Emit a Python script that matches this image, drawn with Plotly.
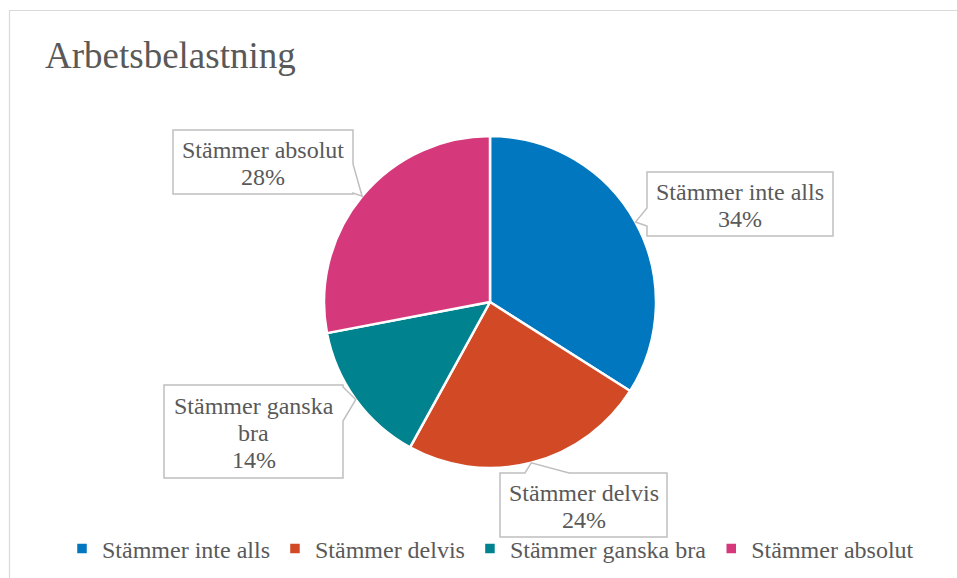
import math
import plotly.graph_objects as go

# Survey data: workload statement
categories = ["Stämmer inte alls", "Stämmer delvis", "Stämmer ganska bra", "Stämmer absolut"]
values = [34, 24, 14, 28]
label_lines = [["Stämmer inte alls"], ["Stämmer delvis"], ["Stämmer ganska", "bra"], ["Stämmer absolut"]]
colors = ["#0077BE", "#D14925", "#00828F", "#D5397B"]

W, H = 957, 578
FONT = "Liberation Serif"
TEXT_COLOR = "#595959"

# pie geometry (pixels)
CX, CY, R = 490, 302, 166

# callout boxes: (left, top, right, bottom) in pixels, and pointer base points
boxes = [
    (647, 172, 833, 236),
    (500, 473, 667, 537),
    (164, 385, 343, 478),
    (173, 130, 353, 194),
]
pointer_bases = [
    ((647, 208), (647, 226)),
    ((525, 473), (569, 473)),
    ((343, 387), (343, 421)),
    ((353, 164), (353, 193)),
]


def px(x):
    return x / W


def py(y):
    return 1 - y / H


total = sum(values)
percents = [round(v / total * 100) for v in values]

fig = go.Figure()
fig.add_trace(go.Pie(
    labels=categories,
    values=values,
    sort=False,
    direction="clockwise",
    rotation=0,
    textinfo="none",
    marker=dict(colors=colors, line=dict(color="white", width=2.5)),
    domain=dict(x=[px(CX - R), px(CX + R)], y=[py(CY + R), py(CY - R)]),
    showlegend=True,
))

shapes = [
    # chart area frame
    dict(type="rect", xref="paper", yref="paper",
         x0=px(9.5), y0=py(600), x1=px(970), y1=py(10.5),
         line=dict(color="#D9D9D9", width=1.2), fillcolor="rgba(0,0,0,0)", layer="below"),
]
annotations = []

cum = 0
for i, v in enumerate(values):
    mid = (cum + v / 2) / total * 2 * math.pi
    cum += v
    tip = (CX + R * math.sin(mid), CY - R * math.cos(mid))
    l, t, r, b = boxes[i]
    (bx0, by0), (bx1, by1) = pointer_bases[i]
    # outline of box with the pointer inserted on the relevant side
    if bx0 == l and bx1 == l:          # pointer on left side
        pts = [(l, t), (r, t), (r, b), (l, b), (l, by1), tip, (l, by0)]
    elif bx0 == r and bx1 == r:        # pointer on right side
        pts = [(l, t), (r, t), (r, by0), tip, (r, by1), (r, b), (l, b)]
    else:                              # pointer on top side
        pts = [(l, t), (bx0, t), tip, (bx1, t), (r, t), (r, b), (l, b)]
    path = "M " + " L ".join(f"{px(x):.5f},{py(y):.5f}" for x, y in pts) + " Z"
    shapes.append(dict(type="path", xref="paper", yref="paper", path=path,
                       fillcolor="white", line=dict(color="#BFBFBF", width=1.5)))

    lines = label_lines[i] + [f"{percents[i]}%"]
    cy = (t + b) / 2 + 1.5
    step = 26.5
    for k, txt in enumerate(lines):
        y = cy + (k - (len(lines) - 1) / 2) * step
        annotations.append(dict(
            x=px((l + r) / 2), y=py(y), xref="paper", yref="paper",
            text=txt, showarrow=False, xanchor="center", yanchor="middle",
            font=dict(family=FONT, size=24, color=TEXT_COLOR),
        ))

fig.update_layout(
    width=W, height=H,
    margin=dict(l=0, r=0, t=0, b=0),
    paper_bgcolor="white",
    plot_bgcolor="white",
    font=dict(family=FONT, color=TEXT_COLOR),
    title=dict(text="Arbetsbelastning", x=px(45), xanchor="left",
               y=py(55), yanchor="middle",
               font=dict(family=FONT, size=37, color=TEXT_COLOR)),
    legend=dict(orientation="h", x=px(62), xanchor="left", y=py(549), yanchor="middle",
                font=dict(family=FONT, size=24, color=TEXT_COLOR),
                itemwidth=30, traceorder="normal", bgcolor="rgba(0,0,0,0)"),
    shapes=shapes,
    annotations=annotations,
)

fig.write_html("out.html")
